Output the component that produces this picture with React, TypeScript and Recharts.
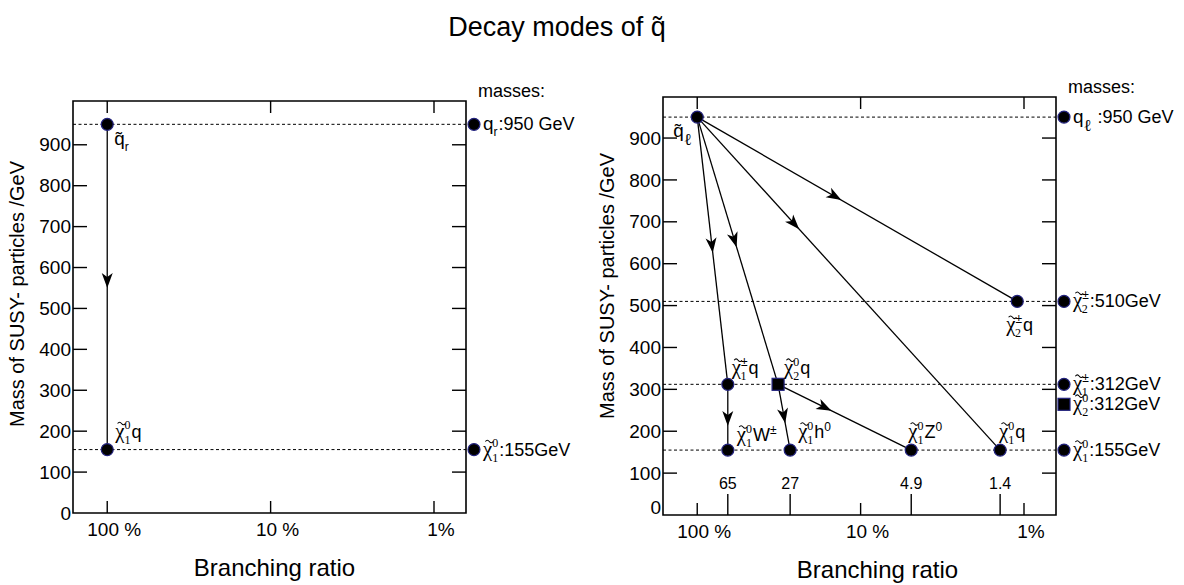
import { ComposedChart, XAxis, YAxis, Scatter, ReferenceLine, ReferenceArea } from 'recharts'

const SANS = '"Liberation Sans", Arial, sans-serif'
const SERIF = '"Liberation Serif", "Times New Roman", serif'
const INK = '#000'
const RIM = '#23237e'

const TITLE = 'Decay modes of q\u0303'
const X_TITLE = 'Branching ratio'
const Y_TITLE = 'Mass of SUSY- particles /GeV'
const MASSES_TITLE = 'masses:'

const CHI = '\u03c7'
const SQ = 'q\u0303'

// branching ratio axis (%), drawn log and reversed
const BR_DOMAIN: [number, number] = [0.637, 162]
const BR_MAJOR = [100, 10, 1]
const BR_MAJOR_LABELS = ['100 %', '10 %', '1%']
const BR_FINAL_R = [65, 27, 4.9, 1.4]
const MASS_TICKS = [0, 100, 200, 300, 400, 500, 600, 700, 800, 900]

type Sym = { b: string; serif?: boolean; sup?: string; sub?: string; rest?: string; rsup?: string }
type Part = { id: string; br: number; m: number }
type Mass = { id: string; m: number; name: Sym }

// left panel: right-handed squark
const PARTS_L: Part[] = [
  { id: 'sqR', br: 100, m: 950 },
  { id: 'n1qR', br: 100, m: 155 },
]
const DECAYS_L = [['sqR', 'n1qR']]
const MASSES_L: Mass[] = [
  { id: 'sq', m: 950, name: { b: 'q', sub: 'r', rest: ':950 GeV' } },
  { id: 'n1', m: 155, name: { b: CHI, serif: true, sup: '0', sub: '1', rest: ':155GeV' } },
]

// right panel: left-handed squark
const PARTS_R: Part[] = [
  { id: 'sqL', br: 100, m: 950 },
  { id: 'c2q', br: 1.1, m: 510 },
  { id: 'c1q', br: 65, m: 312 },
  { id: 'n2q', br: 32, m: 312 },
  { id: 'n1w', br: 65, m: 155 },
  { id: 'n1h', br: 27, m: 155 },
  { id: 'n1z', br: 4.9, m: 155 },
  { id: 'n1q', br: 1.4, m: 155 },
]
const DECAYS_R = [
  ['sqL', 'c1q'], ['sqL', 'n2q'], ['sqL', 'n1q'], ['sqL', 'c2q'],
  ['c1q', 'n1w'], ['n2q', 'n1h'], ['n2q', 'n1z'],
]
const MASSES_R: Mass[] = [
  { id: 'sq', m: 950, name: { b: 'q', sub: '\u2113', rest: ' :950 GeV' } },
  { id: 'c2', m: 510, name: { b: CHI, serif: true, sup: '±', sub: '2', rest: ':510GeV' } },
  { id: 'c1', m: 312, name: { b: CHI, serif: true, sup: '±', sub: '1', rest: ':312GeV' } },
  { id: 'n2', m: 312, name: { b: CHI, serif: true, sup: '0', sub: '2', rest: ':312GeV' } },
  { id: 'n1', m: 155, name: { b: CHI, serif: true, sup: '0', sub: '1', rest: ':155GeV' } },
]

const NAMES: Record<string, Sym> = {
  sqR: { b: SQ, sub: 'r' },
  n1qR: { b: CHI, serif: true, sup: '0', sub: '1', rest: 'q' },
  sqL: { b: SQ, sub: '\u2113' },
  c2q: { b: CHI, serif: true, sup: '±', sub: '2', rest: 'q' },
  c1q: { b: CHI, serif: true, sup: '±', sub: '1', rest: 'q' },
  n2q: { b: CHI, serif: true, sup: '0', sub: '2', rest: 'q' },
  n1w: { b: CHI, serif: true, sup: '0', sub: '1', rest: 'W', rsup: '±' },
  n1h: { b: CHI, serif: true, sup: '0', sub: '1', rest: 'h', rsup: '0' },
  n1z: { b: CHI, serif: true, sup: '0', sub: '1', rest: 'Z', rsup: '0' },
  n1q: { b: CHI, serif: true, sup: '0', sub: '1', rest: 'q' },
}

// label offsets from the marker centre (px), arrow head position along each decay
const LABEL_AT: Record<string, [number, number]> = {
  sqR: [7, 21], n1qR: [8, -12],
  sqL: [-24, 20], c2q: [-11, 30], c1q: [4, -10], n2q: [6, -10],
  n1w: [9, -9], n1h: [8, -12], n1z: [-3, -12], n1q: [-1, -12],
}
const ARROW_AT: Record<string, number> = {
  'sqR>n1qR': 0.48,
  'sqL>c1q': 0.48, 'sqL>n2q': 0.46, 'sqL>n1q': 0.32, 'sqL>c2q': 0.43,
  'c1q>n1w': 0.52, 'n2q>n1h': 0.48, 'n2q>n1z': 0.35,
}
const SQUARE = new Set(['n2q', 'n2'])

// one <text> per symbol: base, stacked sup/sub, then the rest; tilde over chi drawn as a stroke
function SymText({ x, y, s, fs }: { x: number; y: number; s: Sym; fs: number }) {
  const bfs = s.serif ? fs * 1.15 : fs * 1.05
  const bw = (s.serif ? 0.56 : 0.556) * bfs
  const sfs = Math.round(fs * 0.67)
  const font = (c: string) => (/[0-9\u2113]/.test(c) ? SERIF : SANS)
  const cw = (c?: string) => (!c ? 0 : c === '±' ? 0.584 * sfs : c === '\u2113' ? 0.62 * sfs : c === 'r' ? 0.36 * sfs : 0.5 * sfs)
  const supW = cw(s.sup)
  const subW = cw(s.sub)
  const supDy = -fs * 0.45
  const subDy = fs * (s.sub === '\u2113' ? 0.45 : 0.33)
  const subFs = s.sub === '\u2113' ? sfs * 1.4 : sfs

  const spans: JSX.Element[] = []
  let cur = 0
  let dx = 0
  spans.push(<tspan key="b" fontFamily={s.serif ? SERIF : SANS} fontSize={bfs}>{s.b}</tspan>)
  if (s.sup) {
    spans.push(<tspan key="p" fontFamily={font(s.sup)} fontSize={sfs} dy={supDy}>{s.sup}</tspan>)
    cur = supDy
    dx = -supW
  }
  if (s.sub) {
    spans.push(<tspan key="s" fontFamily={font(s.sub)} fontSize={subFs} dx={dx} dy={subDy - cur}>{s.sub}</tspan>)
    cur = subDy
    dx = Math.max(0, supW - subW) + 1
  }
  if (s.rest) {
    spans.push(<tspan key="r" fontFamily={SANS} fontSize={fs} dx={dx} dy={-cur}>{s.rest}</tspan>)
    cur = 0
  }
  if (s.rsup) {
    spans.push(<tspan key="q" fontFamily={SANS} fontSize={sfs} dy={-fs * 0.42}>{s.rsup}</tspan>)
  }
  const tc = x + bw / 2 + 0.5
  const ty = y - bfs * 0.72
  const hw = bfs * 0.19
  return (
    <g>
      <text x={x} y={y} fill={INK}>{spans}</text>
      {s.serif && (
        <path
          d={`M${tc - hw},${ty + 0.8} q${hw / 2},-2.6 ${hw},0 t${hw},0`}
          fill="none" stroke={INK} strokeWidth={1.1}
        />
      )}
    </g>
  )
}

function Marker({ x, y, square }: { x: number; y: number; square?: boolean }) {
  return square
    ? <rect x={x - 6} y={y - 6} width={12} height={12} fill={INK} stroke={RIM} strokeWidth={1.2} />
    : <circle cx={x} cy={y} r={6} fill={INK} stroke={RIM} strokeWidth={1.2} />
}

function Arrow(p: any) {
  const { x1, y1, x2, y2, t } = p
  const dx = x2 - x1
  const dy = y2 - y1
  const L = Math.hypot(dx, dy) || 1
  const ux = dx / L
  const uy = dy / L
  const len = 15
  const hw = 5.5
  const tx = x1 + dx * t + ux * len / 2
  const ty = y1 + dy * t + uy * len / 2
  const bx = tx - ux * len
  const by = ty - uy * len
  const nx = tx - ux * (len - 4)
  const ny = ty - uy * (len - 4)
  const pts = `${tx},${ty} ${bx - uy * hw},${by + ux * hw} ${nx},${ny} ${bx + uy * hw},${by - ux * hw}`
  return (
    <g>
      <line x1={x1} y1={y1} x2={x2} y2={y2} stroke={INK} strokeWidth={1.3} />
      <polygon points={pts} fill={INK} />
    </g>
  )
}

type PanelProps = {
  x0: number
  plot: { x: number; y: number; w: number; h: number }
  yMax: number
  parts: Part[]
  decays: string[][]
  masses: Mass[]
  marks: number[]
  xTitleDx: number
  yTitleDy: number
  zeroDy: number
}

function Panel({ x0, plot, yMax, parts, decays, masses, marks, xTitleDx, yTitleDy, zeroDy }: PanelProps) {
  const W = 592
  const H = 585
  const byId: Record<string, Part> = Object.fromEntries(parts.map((p) => [p.id, p]))
  const xTicks = [...BR_MAJOR, ...marks].sort((a, b) => b - a)
  const massTicks = Array.from(new Set(masses.map((m) => m.m)))

  const yTick = (p: any) => {
    const { x, y, payload } = p
    const v = payload.value
    return (
      <g>
        {v !== 0 && <line x1={x} x2={x + 14} y1={y} y2={y} stroke={INK} strokeWidth={1.4} />}
        {v !== 0 && <line x1={x + plot.w} x2={x + plot.w - 14} y1={y} y2={y} stroke={INK} strokeWidth={1.4} />}
        <text x={x - 2} y={y + (v === 0 ? zeroDy : 0)} dy="0.35em" textAnchor="end" fontSize={19} fontFamily={SANS} fill={INK}>
          {v}
        </text>
      </g>
    )
  }

  const xTick = (p: any) => {
    const { x, y, payload } = p
    const v = payload.value
    const major = BR_MAJOR.indexOf(v)
    if (major < 0) {
      return (
        <g>
          <line x1={x} x2={x} y1={y} y2={y - 21} stroke={INK} strokeWidth={1.4} />
          <text x={x} y={y - 26} textAnchor="middle" fontSize={16} fontFamily={SANS} fill={INK}>{v}</text>
        </g>
      )
    }
    return (
      <g>
        <line x1={x} x2={x} y1={y} y2={y - 12} stroke={INK} strokeWidth={1.4} />
        <line x1={x} x2={x} y1={y - plot.h} y2={y - plot.h + 12} stroke={INK} strokeWidth={1.4} />
        <text x={x + 7} y={y + 23} textAnchor="middle" fontSize={19} fontFamily={SANS} fill={INK}>
          {BR_MAJOR_LABELS[major]}
        </text>
      </g>
    )
  }

  const massTick = (p: any) => {
    const { x, y, payload } = p
    const list = masses.filter((e) => e.m === payload.value)
    return (
      <g>
        {list.map((e, i) => (
          <g key={e.id}>
            <Marker x={x + 8} y={y + i * 20} square={SQUARE.has(e.id)} />
            <SymText x={x + 17} y={y + i * 20 + 6} s={e.name} fs={18} />
          </g>
        ))}
      </g>
    )
  }

  const pointShape = (p: any) => {
    const { cx, cy, payload } = p
    const [dx, dy] = LABEL_AT[payload.id]
    return (
      <g>
        <Marker x={cx} y={cy} square={SQUARE.has(payload.id)} />
        <SymText x={cx + dx} y={cy + dy} s={NAMES[payload.id]} fs={18} />
      </g>
    )
  }

  return (
    <div style={{ position: 'absolute', left: x0, top: 0 }}>
      <ComposedChart width={W} height={H} margin={{ top: plot.y, right: 0, bottom: 0, left: 0 }}>
        <XAxis
          dataKey="br" type="number" scale="log" domain={BR_DOMAIN} reversed allowDataOverflow
          ticks={xTicks} interval={0} tickSize={0} tickMargin={0} axisLine={false} tickLine={false}
          height={H - plot.y - plot.h} tick={xTick}
          label={() => (
            <text x={plot.x + plot.w / 2 + xTitleDx} y={plot.y + plot.h + 63} textAnchor="middle" fontSize={24} fontFamily={SANS} fill={INK}>
              {X_TITLE}
            </text>
          )}
        />
        <YAxis
          yAxisId="l" dataKey="m" type="number" domain={[0, yMax]} allowDataOverflow
          ticks={MASS_TICKS} interval={0} width={plot.x} tickSize={0} tickMargin={0} axisLine={false} tickLine={false}
          tick={yTick}
          label={() => (
            <text
              transform={`translate(${plot.x - 49}, ${plot.y + plot.h / 2 + yTitleDy}) rotate(-90)`}
              textAnchor="middle" fontSize={20} fontFamily={SANS} fill={INK}
            >
              {Y_TITLE}
            </text>
          )}
        />
        <YAxis
          yAxisId="r" orientation="right" type="number" domain={[0, yMax]} allowDataOverflow
          ticks={massTicks} interval={0} width={W - plot.x - plot.w} tickSize={0} tickMargin={0}
          axisLine={false} tickLine={false} tick={massTick}
          label={() => (
            <text x={plot.x + plot.w + 12} y={plot.y - 4} fontSize={18} fontFamily={SANS} fill={INK}>{MASSES_TITLE}</text>
          )}
        />
        <ReferenceArea
          yAxisId="l" x1={BR_DOMAIN[0]} x2={BR_DOMAIN[1]} y1={0} y2={yMax}
          fill="none" fillOpacity={0} stroke={INK} strokeWidth={1.6} ifOverflow="visible"
        />
        {massTicks.map((m) => (
          <ReferenceLine key={m} yAxisId="l" y={m} stroke={INK} strokeWidth={1} strokeDasharray="3 2.5" />
        ))}
        {decays.map(([a, b]) => (
          <ReferenceLine
            key={a + b}
            yAxisId="l"
            segment={[{ x: byId[a].br, y: byId[a].m }, { x: byId[b].br, y: byId[b].m }]}
            shape={(p: any) => <Arrow {...p} t={ARROW_AT[`${a}>${b}`]} />}
          />
        ))}
        <Scatter yAxisId="l" data={parts} isAnimationActive={false} shape={pointShape} />
      </ComposedChart>
    </div>
  )
}

export default function App() {
  return (
    <div style={{ position: 'absolute', left: 0, top: 0, width: 1184, height: 585, background: '#fff' }}>
      <svg width={1184} height={60} style={{ position: 'absolute', left: 0, top: 0 }}>
        <text x={557} y={36} textAnchor="middle" fontSize={27} fontFamily={SANS} fill={INK}>{TITLE}</text>
      </svg>
      <Panel
        x0={0} plot={{ x: 73, y: 101, w: 393, h: 412 }} yMax={1007}
        parts={PARTS_L} decays={DECAYS_L} masses={MASSES_L} marks={[]}
        xTitleDx={5} yTitleDy={-13} zeroDy={0}
      />
      <Panel
        x0={592} plot={{ x: 71, y: 97, w: 393, h: 418 }} yMax={998}
        parts={PARTS_R} decays={DECAYS_R} masses={MASSES_R} marks={BR_FINAL_R}
        xTitleDx={18} yTitleDy={-20} zeroDy={-8}
      />
    </div>
  )
}
